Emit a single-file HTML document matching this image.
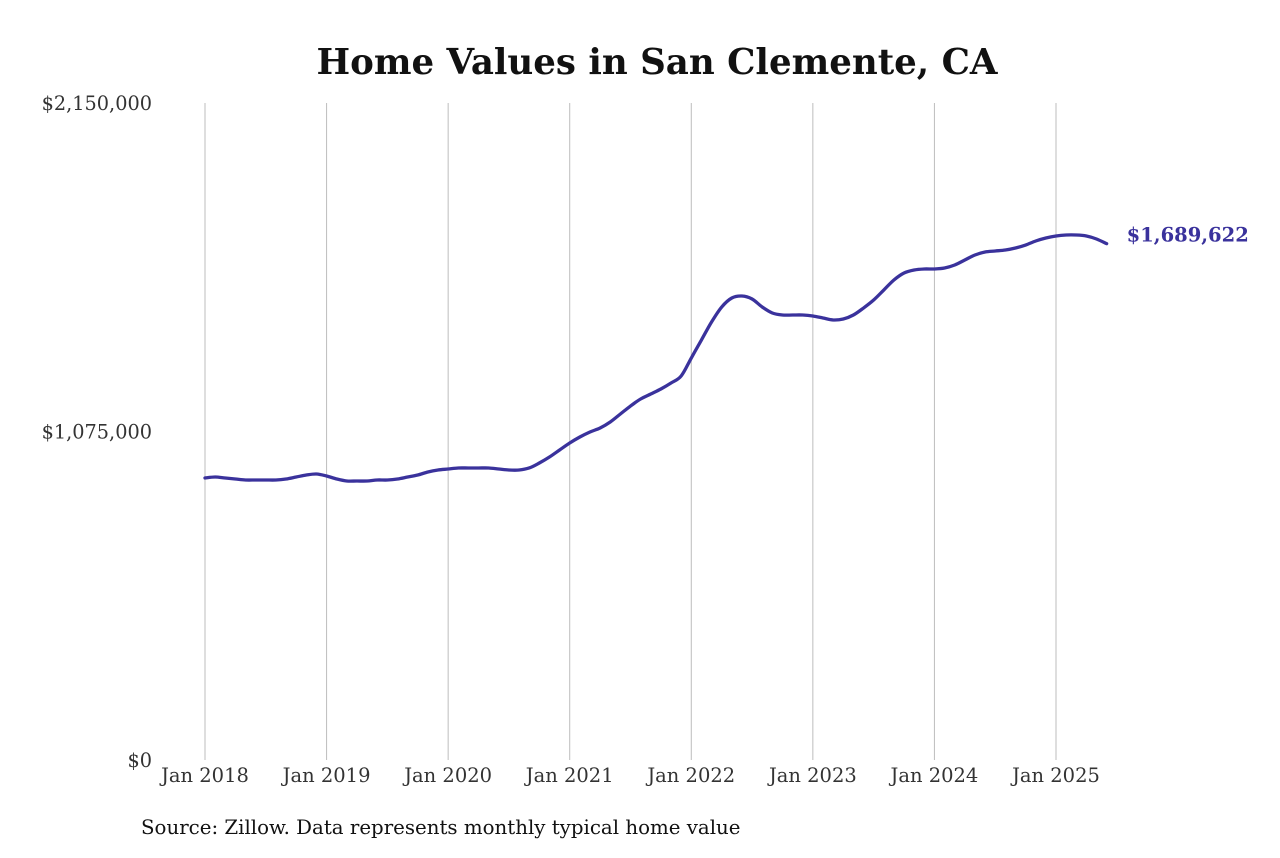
<!DOCTYPE html>
<html><head><meta charset="utf-8"><style>
html,body{margin:0;padding:0;background:#fff;}
svg text{font-family:"DejaVu Serif","Liberation Serif",serif;}
</style></head><body>
<svg width="1280" height="853" viewBox="0 0 1280 853">
<text x="657" y="74" text-anchor="middle" font-size="35.6" font-weight="bold" fill="#111">Home Values in San Clemente, CA</text>
<g id="grid"></g>
<g id="yaxis"></g>
<g id="xaxis"></g>
<path id="line" fill="none" stroke="#3a329c" stroke-width="3.3" stroke-linejoin="round" stroke-linecap="round"/>
<text id="endlabel" font-size="19.5" font-weight="bold" fill="#3a329c"></text>
<text x="141" y="834" font-size="19.8" fill="#111">Source: Zillow. Data represents monthly typical home value</text>
</svg>
<script>
// monthly values (thousands USD), Jan 2018 .. Jun 2025
const values2018 = [922.8,926.1,922.8,919.6,916.3,916.3,916.3,916.3,919.6,926.1,932.6,935.9];
const values2019 = [929.4,919.6,913.0,913.0,913.0,916.3,916.3,919.6,926.1,932.6,942.5,949.0];
const values2020 = [952.3,955.6,955.6,955.6,955.6,952.3,949.0,949.0,955.6,971.9,991.5,1014.5];
const values2021 = [1037.4,1057.0,1073.4,1086.5,1106.1,1132.3,1158.4,1181.3,1197.7,1214.1,1233.7,1256.6];
const values2022 = [1315.5,1374.4,1433.4,1482.4,1511.9,1518.4,1508.6,1482.4,1462.8,1456.2,1456.2,1456.2];
const values2023 = [1453.0,1446.4,1439.9,1443.1,1456.2,1479.1,1505.3,1538.0,1570.8,1593.7,1603.5,1606.8];
const values2024 = [1606.8,1610.0,1619.8,1636.2,1652.6,1662.4,1665.7,1668.9,1675.5,1685.3,1698.4,1708.2];
const values2025 = [1714.8,1718.0,1718.0,1714.8,1705.0,1689.622];
const yTickValues = [0,1075000,2150000];
const yTickLabels = ["$0","$1,075,000","$2,150,000"];
const xTickYears = [2018,2019,2020,2021,2022,2023,2024,2025];
const xTickLabels = ["Jan 2018","Jan 2019","Jan 2020","Jan 2021","Jan 2022","Jan 2023","Jan 2024","Jan 2025"];

const values = [].concat(values2018,values2019,values2020,values2021,values2022,values2023,values2024,values2025).map(v=>v*1000);
const NS="http://www.w3.org/2000/svg";
const y0=760,y1=103,vmax=2150000;
function yScale(v){return y0-(v/vmax)*(y0-y1);}
function xScale(m){return 205+m*(1056-205)/84;}

const grid=document.getElementById('grid');
const xaxis=document.getElementById('xaxis');
xTickYears.forEach((yr,i)=>{
  const x=xScale((yr-2018)*12);
  const l=document.createElementNS(NS,'line');
  l.setAttribute('x1',x);l.setAttribute('x2',x);l.setAttribute('y1',y1);l.setAttribute('y2',y0);
  l.setAttribute('stroke','#bdbdbd');l.setAttribute('stroke-width','1');
  
  
  grid.appendChild(l);
  const t=document.createElementNS(NS,'text');
  t.setAttribute('x',x);t.setAttribute('y',782);t.setAttribute('text-anchor','middle');
  t.setAttribute('font-size','19.5');t.setAttribute('fill','#333');
  t.textContent=xTickLabels[i];
  
  
  xaxis.appendChild(t);
});
const yaxis=document.getElementById('yaxis');
yTickValues.forEach((v,i)=>{
  const t=document.createElementNS(NS,'text');
  t.setAttribute('x',152);t.setAttribute('y',yScale(v)+7);t.setAttribute('text-anchor','end');
  t.setAttribute('font-size','19.3');t.setAttribute('fill','#333');
  t.textContent=yTickLabels[i];
  
  
  yaxis.appendChild(t);
});
const pts=values.map((v,i)=>[xScale(i),yScale(v)]);
let d='M'+pts[0][0]+','+pts[0][1];
for(let i=0;i<pts.length-1;i++){
  const p0=pts[Math.max(0,i-1)],p1=pts[i],p2=pts[i+1],p3=pts[Math.min(pts.length-1,i+2)];
  const c1x=p1[0]+(p2[0]-p0[0])/6,c1y=p1[1]+(p2[1]-p0[1])/6;
  const c2x=p2[0]-(p3[0]-p1[0])/6,c2y=p2[1]-(p3[1]-p1[1])/6;
  d+=' C'+c1x+','+c1y+' '+c2x+','+c2y+' '+p2[0]+','+p2[1];
}
document.getElementById('line').setAttribute('d',d);
const last=pts[pts.length-1];
const el=document.getElementById('endlabel');
el.setAttribute('x',last[0]+20);el.setAttribute('y',last[1]-2);
el.textContent='$'+Math.round(values[values.length-1]).toLocaleString('en-US');
</script>
</body></html>
